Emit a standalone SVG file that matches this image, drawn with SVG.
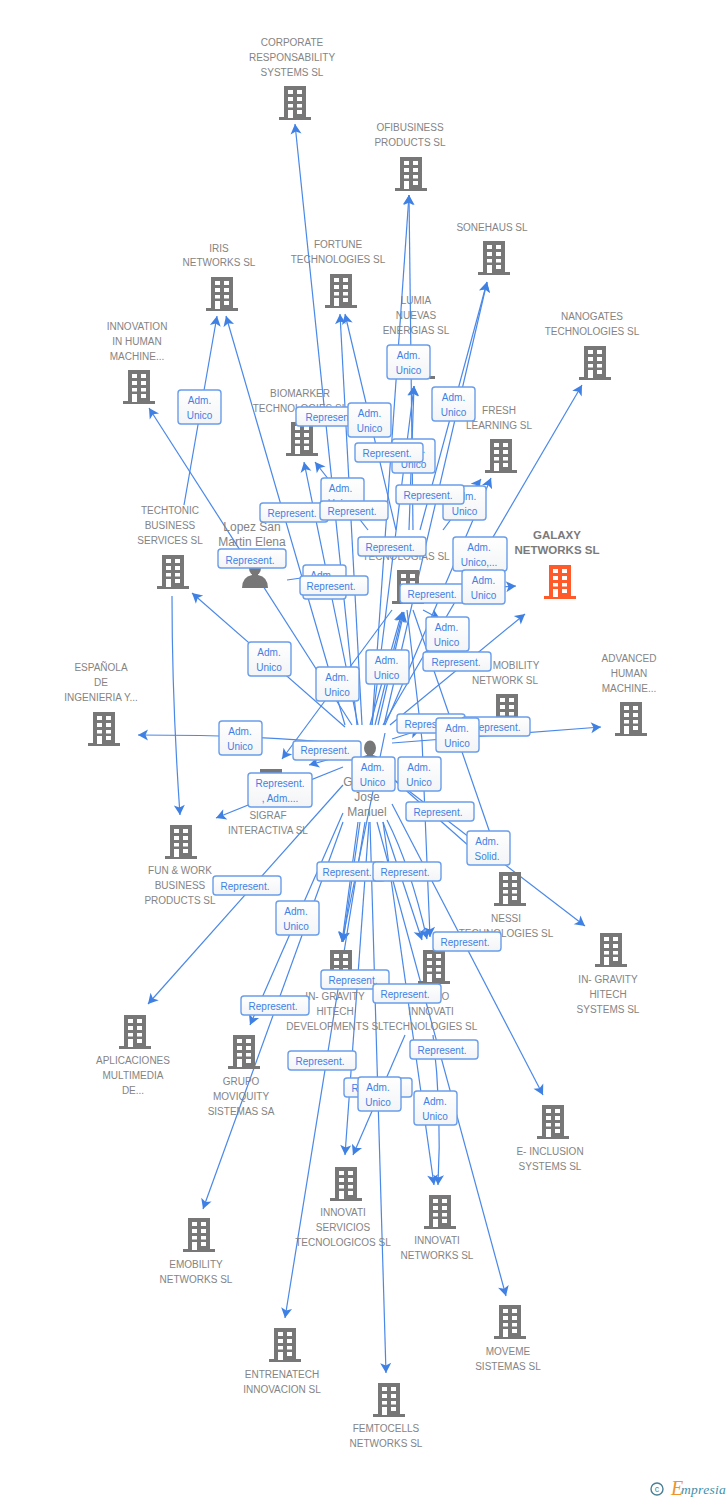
<svg xmlns="http://www.w3.org/2000/svg" width="728" height="1500" viewBox="0 0 728 1500">
<style>
text{font-family:"Liberation Sans",Arial,sans-serif}
.n{font-size:10px;fill:#848484;text-anchor:middle}
.u{font-size:12px;fill:#848484;text-anchor:middle}
.g{font-size:11.500px;fill:#7a7a7a;text-anchor:middle;font-weight:bold}
.c line,.c path{stroke:#4a88e8;stroke-width:1.2;fill:none;marker-end:url(#a)}
.l rect{fill:url(#f);stroke:#6a9dea;stroke-width:1.4}
.l text{font-size:10px;fill:#3f80e4;text-anchor:middle}
.b{fill:#777}.o{fill:#ff5a2a}
</style>
<defs>
<linearGradient id="f" x1="0" y1="0" x2="0" y2="1"><stop offset="0" stop-color="#fff"/><stop offset="1" stop-color="#f3f4f6"/></linearGradient>
<marker id="a" markerUnits="userSpaceOnUse" markerWidth="12" markerHeight="12" refX="11" refY="6" orient="auto"><path d="M1,0.500 L11,6 L1,11.500 L3.500,6 z" fill="#3f80e4"/></marker>
<path id="w" fill="#fff" d="M-7,4h5v4h-5zM2,4h5v4h-5zM-7,11h5v4h-5zM2,11h5v4h-5zM-7,18h5v3.500h-5zM2,18h5v3.500h-5zM-7,24h5v8h-5zM2,24h5v4h-5z"/>
<path id="h" d="M-11,0h22v31h5v3h-32v-3h5z"/>
<g id="p"><ellipse cx="0" cy="7" rx="6" ry="7.500"/><path d="M-3,12h6v2q10,2,10,13h-26q0,-11,10,-13z"/></g>
</defs>
<rect width="728" height="1500" fill="#fff"/>
<g id="connectors" class="c">
<line x1="357" y1="725" x2="295" y2="124"/>
<line x1="184" y1="505" x2="217" y2="316"/>
<line x1="345" y1="725" x2="226" y2="316"/>
<line x1="352" y1="725" x2="149" y2="408"/>
<line x1="362" y1="725" x2="340" y2="314"/>
<line x1="396" y1="530" x2="345" y2="314"/>
<line x1="358" y1="725" x2="304" y2="462"/>
<line x1="368" y1="530" x2="315" y2="462"/>
<line x1="372" y1="725" x2="409" y2="195"/>
<line x1="413" y1="530" x2="409" y2="195"/>
<line x1="420" y1="530" x2="487" y2="282"/>
<line x1="384" y1="725" x2="487" y2="282"/>
<line x1="383" y1="725" x2="582" y2="385"/>
<line x1="409" y1="530" x2="414" y2="386"/>
<line x1="372" y1="725" x2="414" y2="386"/>
<line x1="443" y1="530" x2="481" y2="479"/>
<line x1="385" y1="725" x2="491" y2="478"/>
<line x1="430" y1="592" x2="516" y2="586"/>
<line x1="370" y1="725" x2="402" y2="612"/>
<line x1="375" y1="725" x2="403" y2="612"/>
<line x1="378" y1="725" x2="404" y2="612"/>
<line x1="392" y1="610" x2="282" y2="759"/>
<line x1="413" y1="610" x2="500" y2="862"/>
<line x1="423" y1="610" x2="440" y2="619"/>
<path d="M407,610 L422,740 L430,937"/>
<line x1="390" y1="725" x2="525" y2="614"/>
<line x1="392" y1="743" x2="601" y2="727"/>
<line x1="392" y1="739" x2="420" y2="730"/>
<line x1="345" y1="727" x2="192" y2="593"/>
<path d="M172,596 Q172,700 180,815"/>
<path d="M343,744 Q263,735 138,735"/>
<line x1="345" y1="755" x2="309" y2="765"/>
<line x1="343" y1="767" x2="216" y2="818"/>
<line x1="343" y1="785" x2="148" y2="1004"/>
<line x1="343" y1="813" x2="250" y2="1025"/>
<line x1="343" y1="822" x2="203" y2="1209"/>
<line x1="358" y1="822" x2="342" y2="942"/>
<line x1="360" y1="822" x2="343" y2="942"/>
<line x1="385" y1="733" x2="342" y2="942"/>
<line x1="365" y1="822" x2="285" y2="1318"/>
<line x1="369" y1="822" x2="345" y2="1155"/>
<line x1="405" y1="1035" x2="353" y2="1155"/>
<line x1="370" y1="822" x2="386" y2="1373"/>
<line x1="383" y1="822" x2="434" y2="1185"/>
<path d="M433,1035 Q442,1110 438,1185"/>
<line x1="377" y1="822" x2="506" y2="1296"/>
<line x1="383" y1="822" x2="422" y2="940"/>
<path d="M387,820 Q410,865 427,939"/>
<line x1="392" y1="804" x2="543" y2="1095"/>
<line x1="392" y1="778" x2="585" y2="926"/>
<line x1="392" y1="778" x2="487" y2="862"/>
<line x1="287" y1="580" x2="322" y2="575"/>
</g>
<g id="n-corporate"><use href="#h" x="295" y="86" class="b"/><use href="#w" x="295" y="86"/><text class="n" x="292" y="46">CORPORATE</text><text class="n" x="292" y="61">RESPONSABILITY</text><text class="n" x="292" y="76">SYSTEMS SL</text></g>
<g id="n-ofibusiness"><use href="#h" x="411" y="157" class="b"/><use href="#w" x="411" y="157"/><text class="n" x="410" y="131">OFIBUSINESS</text><text class="n" x="410" y="146">PRODUCTS SL</text></g>
<g id="n-sonehaus"><use href="#h" x="494" y="241" class="b"/><use href="#w" x="494" y="241"/><text class="n" x="492" y="231">SONEHAUS SL</text></g>
<g id="n-fortune"><use href="#h" x="341" y="274" class="b"/><use href="#w" x="341" y="274"/><text class="n" x="338" y="248">FORTUNE</text><text class="n" x="338" y="263">TECHNOLOGIES SL</text></g>
<g id="n-iris"><use href="#h" x="222" y="277" class="b"/><use href="#w" x="222" y="277"/><text class="n" x="219" y="252">IRIS</text><text class="n" x="219" y="266">NETWORKS SL</text></g>
<g id="n-nanogates"><use href="#h" x="595" y="346" class="b"/><use href="#w" x="595" y="346"/><text class="n" x="592" y="320">NANOGATES</text><text class="n" x="592" y="335">TECHNOLOGIES SL</text></g>
<g id="n-lumia"><use href="#h" x="419" y="345" class="b"/><use href="#w" x="419" y="345"/><text class="n" x="416" y="304">LUMIA</text><text class="n" x="416" y="319">NUEVAS</text><text class="n" x="416" y="334">ENERGIAS SL</text></g>
<g id="n-innovation"><use href="#h" x="139" y="370" class="b"/><use href="#w" x="139" y="370"/><text class="n" x="137" y="330">INNOVATION</text><text class="n" x="137" y="345">IN HUMAN</text><text class="n" x="137" y="360">MACHINE...</text></g>
<g id="n-biomarker"><use href="#h" x="302" y="422" class="b"/><use href="#w" x="302" y="422"/><text class="n" x="300" y="397">BIOMARKER</text><text class="n" x="300" y="412">TECHNOLOGIES SL</text></g>
<g id="n-fresh"><use href="#h" x="501" y="439" class="b"/><use href="#w" x="501" y="439"/><text class="n" x="499" y="414">FRESH</text><text class="n" x="499" y="429">LEARNING SL</text></g>
<g id="n-techtonic"><use href="#h" x="173" y="555" class="b"/><use href="#w" x="173" y="555"/><text class="n" x="170" y="514">TECHTONIC</text><text class="n" x="170" y="529">BUSINESS</text><text class="n" x="170" y="544">SERVICES SL</text></g>
<g id="n-lopez"><use href="#p" x="255" y="561" class="b"/><text class="u" x="252" y="531">Lopez San</text><text class="u" x="252" y="546">Martin Elena</text></g>
<g id="n-tecnologias"><use href="#h" x="408" y="570" class="b"/><use href="#w" x="408" y="570"/><text class="n" x="406" y="560">TECNOLOGIAS SL</text></g>
<g id="n-galaxy"><use href="#h" x="560" y="565" class="o"/><use href="#w" x="560" y="565"/><text class="g" x="557" y="539">GALAXY</text><text class="g" x="557" y="554">NETWORKS SL</text></g>
<g id="n-advanced"><use href="#h" x="631" y="702" class="b"/><use href="#w" x="631" y="702"/><text class="n" x="629" y="662">ADVANCED</text><text class="n" x="629" y="677">HUMAN</text><text class="n" x="629" y="692">MACHINE...</text></g>
<g id="n-mobility"><use href="#h" x="507" y="694" class="b"/><use href="#w" x="507" y="694"/><text class="n" x="516" y="669">MOBILITY</text><text class="n" x="505" y="684">NETWORK SL</text></g>
<g id="n-espanola"><use href="#h" x="104" y="712" class="b"/><use href="#w" x="104" y="712"/><text class="n" x="101" y="671">ESPAÑOLA</text><text class="n" x="101" y="686">DE</text><text class="n" x="101" y="701">INGENIERIA Y...</text></g>
<g id="n-sigraf"><use href="#h" x="271" y="769" class="b"/><use href="#w" x="271" y="769"/><text class="n" x="268" y="819">SIGRAF</text><text class="n" x="268" y="834">INTERACTIVA SL</text></g>
<g id="n-hub"><use href="#p" x="370" y="741" class="b"/><text class="u" x="348" y="786">G</text><text class="u" x="367" y="801">Jose</text><text class="u" x="367" y="816">Manuel</text></g>
<g id="n-fun"><use href="#h" x="181" y="825" class="b"/><use href="#w" x="181" y="825"/><text class="n" x="180" y="874">FUN &amp; WORK</text><text class="n" x="180" y="889">BUSINESS</text><text class="n" x="180" y="904">PRODUCTS  SL</text></g>
<g id="n-nessi"><use href="#h" x="510" y="872" class="b"/><use href="#w" x="510" y="872"/><text class="n" x="506" y="922">NESSI</text><text class="n" x="506" y="937">TECHNOLOGIES SL</text></g>
<g id="n-gravity-sys"><use href="#h" x="611" y="933" class="b"/><use href="#w" x="611" y="933"/><text class="n" x="608" y="983">IN- GRAVITY</text><text class="n" x="608" y="998">HITECH</text><text class="n" x="608" y="1013">SYSTEMS SL</text></g>
<g id="n-gravity-dev"><use href="#h" x="341" y="950" class="b"/><use href="#w" x="341" y="950"/><text class="n" x="335" y="1000">IN- GRAVITY</text><text class="n" x="335" y="1015">HITECH</text><text class="n" x="335" y="1030">DEVELOPMENTS SL</text></g>
<g id="n-innovati-tech"><use href="#h" x="434" y="950" class="b"/><use href="#w" x="434" y="950"/><text class="n" x="431" y="1000">GRUPO</text><text class="n" x="431" y="1015">INNOVATI</text><text class="n" x="430" y="1030">TECHNOLOGIES SL</text></g>
<g id="n-aplicaciones"><use href="#h" x="135" y="1015" class="b"/><use href="#w" x="135" y="1015"/><text class="n" x="133" y="1064">APLICACIONES</text><text class="n" x="133" y="1079">MULTIMEDIA</text><text class="n" x="133" y="1094">DE...</text></g>
<g id="n-grupo"><use href="#h" x="244" y="1035" class="b"/><use href="#w" x="244" y="1035"/><text class="n" x="241" y="1085">GRUPO</text><text class="n" x="241" y="1100">MOVIQUITY</text><text class="n" x="241" y="1115">SISTEMAS SA</text></g>
<g id="n-einclusion"><use href="#h" x="553" y="1105" class="b"/><use href="#w" x="553" y="1105"/><text class="n" x="550" y="1155">E- INCLUSION</text><text class="n" x="550" y="1170">SYSTEMS SL</text></g>
<g id="n-servicios"><use href="#h" x="346" y="1167" class="b"/><use href="#w" x="346" y="1167"/><text class="n" x="343" y="1216">INNOVATI</text><text class="n" x="343" y="1231">SERVICIOS</text><text class="n" x="343" y="1246">TECNOLOGICOS SL</text></g>
<g id="n-innovati-net"><use href="#h" x="440" y="1195" class="b"/><use href="#w" x="440" y="1195"/><text class="n" x="437" y="1244">INNOVATI</text><text class="n" x="437" y="1259">NETWORKS SL</text></g>
<g id="n-emobility"><use href="#h" x="199" y="1218" class="b"/><use href="#w" x="199" y="1218"/><text class="n" x="196" y="1268">EMOBILITY</text><text class="n" x="196" y="1283">NETWORKS SL</text></g>
<g id="n-moveme"><use href="#h" x="510" y="1305" class="b"/><use href="#w" x="510" y="1305"/><text class="n" x="508" y="1355">MOVEME</text><text class="n" x="508" y="1370">SISTEMAS SL</text></g>
<g id="n-entrenatech"><use href="#h" x="285" y="1328" class="b"/><use href="#w" x="285" y="1328"/><text class="n" x="282" y="1378">ENTRENATECH</text><text class="n" x="282" y="1393">INNOVACION SL</text></g>
<g id="n-femtocells"><use href="#h" x="389" y="1383" class="b"/><use href="#w" x="389" y="1383"/><text class="n" x="386" y="1432">FEMTOCELLS</text><text class="n" x="386" y="1447">NETWORKS SL</text></g>
<g id="labels" class="l">
<g><rect x="178" y="390" width="43" height="34" rx="3"/><text x="199.500" y="404">Adm.</text><text x="199.500" y="419">Unico</text></g>
<g><rect x="387" y="345" width="43" height="34" rx="3"/><text x="408.500" y="359">Adm.</text><text x="408.500" y="374">Unico</text></g>
<g><rect x="432" y="387" width="43" height="34" rx="3"/><text x="453.500" y="401">Adm.</text><text x="453.500" y="416">Unico</text></g>
<g><rect x="296" y="407" width="68" height="19" rx="3"/><text x="330" y="421">Represent.</text></g>
<g><rect x="348" y="403" width="43" height="34" rx="3"/><text x="369.500" y="417">Adm.</text><text x="369.500" y="432">Unico</text></g>
<g><rect x="392" y="439" width="43" height="34" rx="3"/><text x="413.500" y="453">Adm.</text><text x="413.500" y="468">Unico</text></g>
<g><rect x="355" y="443" width="68" height="19" rx="3"/><text x="387" y="457">Represent.</text></g>
<g><rect x="321" y="478" width="43" height="34" rx="3"/><text x="340.500" y="492">Adm.</text><text x="340.500" y="507">Unico</text></g>
<g><rect x="443" y="486" width="43" height="34" rx="3"/><text x="464.500" y="500">Adm.</text><text x="464.500" y="515">Unico</text></g>
<g><rect x="396" y="485" width="68" height="19" rx="3"/><text x="428" y="499">Represent.</text></g>
<g><rect x="260" y="503" width="68" height="19" rx="3"/><text x="292" y="517">Represent.</text></g>
<g><rect x="320" y="501" width="68" height="19" rx="3"/><text x="352" y="515">Represent.</text></g>
<g><rect x="218" y="549" width="68" height="19" rx="3"/><text x="250" y="564">Represent.</text></g>
<g><rect x="303" y="565" width="43" height="34" rx="3"/><text x="322" y="579">Adm.</text><text x="322" y="594">Unico</text></g>
<g><rect x="300" y="576" width="68" height="19" rx="3"/><text x="331" y="590">Represent.</text></g>
<g><rect x="358" y="537" width="68" height="19" rx="3"/><text x="390" y="551">Represent.</text></g>
<g><rect x="453" y="537" width="54" height="34" rx="3"/><text x="479" y="551">Adm.</text><text x="479" y="566">Unico,...</text></g>
<g><rect x="400" y="584" width="68" height="19" rx="3"/><text x="432" y="598">Represent.</text></g>
<g><rect x="462" y="570" width="43" height="34" rx="3"/><text x="483.500" y="584">Adm.</text><text x="483.500" y="599">Unico</text></g>
<g><rect x="426" y="617" width="43" height="34" rx="3"/><text x="446.500" y="631">Adm.</text><text x="446.500" y="646">Unico</text></g>
<g><rect x="423" y="652" width="68" height="19" rx="3"/><text x="456" y="666">Represent.</text></g>
<g><rect x="366" y="650" width="43" height="34" rx="3"/><text x="386.500" y="664">Adm.</text><text x="386.500" y="679">Unico</text></g>
<g><rect x="316" y="667" width="43" height="34" rx="3"/><text x="337" y="681">Adm.</text><text x="337" y="696">Unico</text></g>
<g><rect x="248" y="642" width="43" height="34" rx="3"/><text x="269" y="656">Adm.</text><text x="269" y="671">Unico</text></g>
<g><rect x="219" y="721" width="43" height="34" rx="3"/><text x="240" y="735">Adm.</text><text x="240" y="750">Unico</text></g>
<g><rect x="397" y="714" width="68" height="19" rx="3"/><text x="429" y="728">Represent.</text></g>
<g><rect x="462" y="717" width="68" height="19" rx="3"/><text x="496" y="731">Represent.</text></g>
<g><rect x="436" y="718" width="43" height="34" rx="3"/><text x="457" y="732">Adm.</text><text x="457" y="747">Unico</text></g>
<g><rect x="293" y="741" width="68" height="19" rx="3"/><text x="325" y="754">Represent.</text></g>
<g><rect x="248" y="773" width="64" height="34" rx="3"/><text x="280" y="787">Represent.</text><text x="280" y="802">, Adm....</text></g>
<g><rect x="352" y="757" width="43" height="34" rx="3"/><text x="372.500" y="771">Adm.</text><text x="372.500" y="786">Unico</text></g>
<g><rect x="398" y="757" width="43" height="34" rx="3"/><text x="419" y="771">Adm.</text><text x="419" y="786">Unico</text></g>
<g><rect x="406" y="802" width="68" height="19" rx="3"/><text x="438" y="816">Represent.</text></g>
<g><rect x="467" y="831" width="43" height="34" rx="3"/><text x="487" y="845">Adm.</text><text x="487" y="860">Solid.</text></g>
<g><rect x="317" y="862" width="68" height="19" rx="3"/><text x="347" y="876">Represent.</text></g>
<g><rect x="373" y="862" width="68" height="19" rx="3"/><text x="405" y="876">Represent.</text></g>
<g><rect x="213" y="876" width="68" height="19" rx="3"/><text x="245" y="890">Represent.</text></g>
<g><rect x="276" y="901" width="43" height="34" rx="3"/><text x="296" y="915">Adm.</text><text x="296" y="930">Unico</text></g>
<g><rect x="433" y="932" width="68" height="19" rx="3"/><text x="465" y="946">Represent.</text></g>
<g><rect x="321" y="970" width="68" height="19" rx="3"/><text x="353" y="984">Represent.</text></g>
<g><rect x="373" y="984" width="68" height="19" rx="3"/><text x="405" y="998">Represent.</text></g>
<g><rect x="241" y="996" width="68" height="19" rx="3"/><text x="273" y="1010">Represent.</text></g>
<g><rect x="410" y="1040" width="68" height="19" rx="3"/><text x="442" y="1054">Represent.</text></g>
<g><rect x="288" y="1051" width="68" height="19" rx="3"/><text x="320" y="1065">Represent.</text></g>
<g><rect x="344" y="1078" width="68" height="19" rx="3"/><text x="376" y="1092">Represent.</text></g>
<g><rect x="358" y="1077" width="43" height="34" rx="3"/><text x="378" y="1091">Adm.</text><text x="378" y="1106">Unico</text></g>
<g><rect x="414" y="1091" width="43" height="34" rx="3"/><text x="435" y="1105">Adm.</text><text x="435" y="1120">Unico</text></g>
</g>
<g id="logo"><circle cx="657" cy="1489" r="6" fill="none" stroke="#4a7f96" stroke-width="1.400"/><text x="657" y="1492" font-size="9" fill="#4a7f96" text-anchor="middle">c</text><text x="671" y="1495" style="font-family:'Liberation Serif',serif" font-size="20" font-style="italic" fill="#f0932b">E</text><text x="681" y="1494" style="font-family:'Liberation Serif',serif" font-size="13.500" font-style="italic" fill="#3f8ea8" letter-spacing=".3">mpresia</text></g>
</svg>
